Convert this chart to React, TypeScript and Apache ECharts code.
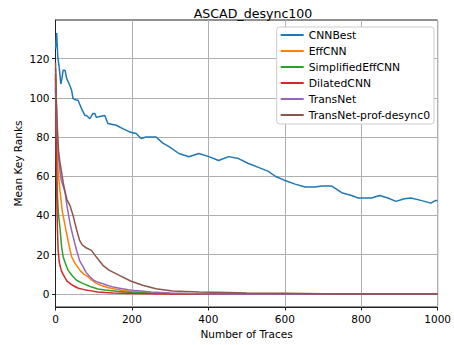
import React, { useEffect, useRef } from "react";
import * as echarts from "echarts";

const title = "ASCAD_desync100";
const xName = "Number of Traces";
const yName = "Mean Key Ranks";
const yTicks = [0, 20, 40, 60, 80, 100, 120];

const seriesNames = ["CNNBest", "EffCNN", "SimplifiedEffCNN", "DilatedCNN", "TransNet", "TransNet-prof-desync0"];
const colors = ["#1f77b4", "#ff7f0e", "#2ca02c", "#d62728", "#9467bd", "#8c564b"];

const cnnBest: number[][] = [
  [0, 125], [3, 133], [6, 121], [10, 115], [14, 107], [17, 110], [20, 114], [25, 114], [29, 110],
  [38, 106], [42, 104], [46, 99.6], [52, 99], [59, 98.7], [68, 94.5], [77, 91], [81, 91], [90, 89.4],
  [98, 92], [103, 92], [107, 90], [116, 90.5], [129, 91], [137, 86.9], [159, 86], [176, 84.3],
  [194, 82.6], [211, 81.8], [224, 79.2], [237, 80], [263, 80], [280, 77], [298, 75], [323, 71.6],
  [349, 69.9], [375, 71.6], [401, 70], [427, 68], [453, 70], [479, 69], [505, 66.5], [531, 64.5],
  [557, 62.5], [575, 60], [601, 57.8], [627, 56], [653, 54.5], [679, 54.5], [697, 55], [723, 55],
  [749, 51.6], [775, 50.2], [792, 48.9], [827, 48.9], [848, 50.2], [870, 48.9], [891, 47.2],
  [913, 48.5], [930, 48.9], [956, 47.7], [982, 46.3], [995, 47.7], [1000, 47.5],
];

const effCnn: number[][] = [
  [0, 110], [1, 100], [2, 90], [4, 75], [7, 62], [12, 52], [18, 42], [25, 35], [33, 27], [42, 19],
  [50, 16], [64, 12], [75, 10], [85, 8.8], [95, 7], [107, 5.4], [120, 4.3], [137, 3.3], [155, 2.5],
  [176, 1.8], [200, 1.2], [250, 0.5], [300, 0.25], [350, 0.1], [400, 0], [1000, 0],
];

const simplifiedEffCnn: number[][] = [
  [0, 105], [1, 92], [2, 78], [3, 65], [5, 50], [8, 40], [12, 33], [16, 24], [20, 19], [25, 16],
  [33, 12], [45, 9], [55, 7], [70, 5.5], [81, 4.6], [95, 3.5], [111, 2.5], [130, 2], [160, 1.4],
  [200, 0.8], [250, 0.4], [300, 0.15], [350, 0.05], [400, 0], [1000, 0],
];

const dilatedCnn: number[][] = [
  [0, 112], [1, 90], [2, 72], [3, 55], [4, 42], [5, 33], [7, 22], [10, 16], [15, 12], [20, 10],
  [30, 6.5], [40, 5], [50, 3.8], [60, 2.9], [75, 2.2], [90, 1.7], [110, 1.0], [150, 0.5],
  [200, 0.2], [250, 0.05], [300, 0], [1000, 0],
];

const transNet: number[][] = [
  [0, 115], [1, 105], [2, 98], [4, 85], [7, 72], [10, 66], [12, 62], [15, 58], [20, 55], [25, 52],
  [30, 45], [38, 36], [45, 30], [55, 22.4], [63, 17], [72, 13.9], [80, 11], [90, 8.8], [100, 7],
  [107, 6.3], [120, 5.5], [133, 4.6], [150, 3.6], [168, 2.9], [190, 2.2], [211, 1.7], [250, 1.0],
  [300, 0.5], [350, 0.2], [400, 0.05], [450, 0], [1000, 0],
];

const transNetProf: number[][] = [
  [0, 118], [1, 110], [2, 100], [4, 90], [6, 80], [8, 73], [11, 68], [16, 62], [20, 57], [25, 52],
  [30, 48], [38, 45], [46, 40], [51, 36], [55, 33], [63, 27.3], [70, 25], [81, 23.4], [94, 22.2],
  [107, 18.8], [124, 14.6], [141, 12], [167, 9.5], [198, 6.5], [228, 4.4], [263, 2.7], [306, 1.5],
  [375, 1], [450, 0.7], [500, 0.5], [600, 0.3], [700, 0.1], [800, 0], [1000, 0],
];

const allData = [cnnBest, effCnn, simplifiedEffCnn, dilatedCnn, transNet, transNetProf];

const FONT = "DejaVu Sans";
const FS = 10.5;

export default function App() {
  const ref = useRef<HTMLDivElement>(null);
  useEffect(() => {
    if (!ref.current) return;
    const chart = echarts.init(ref.current, null, { renderer: "svg" });
    chart.setOption({
      animation: false,
      title: {
        text: title,
        left: 248,
        top: 2,
        textAlign: "center",
        textStyle: { fontSize: 12.6, fontWeight: "normal", color: "#000", fontFamily: FONT },
      },
      grid: {
        left: 55.5,
        right: 13.5,
        top: 20,
        bottom: 38,
        show: true,
        borderColor: "#222",
        borderWidth: 1,
        backgroundColor: "transparent",
      },
      legend: {
        orient: "vertical",
        right: 20,
        top: 27,
        data: seriesNames,
        icon: "rect",
        itemWidth: 23,
        itemHeight: 2,
        itemGap: 4,
        itemTextGap: 8,
        padding: [2, 4, 3, 4],
        backgroundColor: "#fff",
        borderColor: "#ccc",
        borderWidth: 1,
        borderRadius: 3,
        textStyle: { fontSize: 10.8, fontFamily: FONT, color: "#000", lineHeight: 12 },
      },
      xAxis: {
        type: "value",
        min: 0,
        max: 1000,
        interval: 200,
        name: xName,
        nameLocation: "middle",
        nameGap: 21,
        nameMoveOverlap: false,
        nameTextStyle: { fontSize: FS, fontFamily: FONT, color: "#000" },
        axisLine: { onZero: false, lineStyle: { color: "#222", width: 1 } },
        axisTick: { show: true, length: 3.5, lineStyle: { color: "#222" } },
        axisLabel: {
          fontSize: FS,
          fontFamily: FONT,
          color: "#000",
          margin: 6,
          formatter: (v: number) => String(v),
        },
        splitLine: { show: true, lineStyle: { color: "#b0b0b0", width: 1 } },
      },
      yAxis: {
        type: "value",
        min: -6.65,
        max: 139.65,
        name: yName,
        nameLocation: "middle",
        nameGap: 32,
        nameMoveOverlap: false,
        nameTextStyle: { fontSize: FS, fontFamily: FONT, color: "#000" },
        axisLine: { onZero: false, lineStyle: { color: "#222", width: 1 } },
        axisTick: { show: true, length: 3.5, lineStyle: { color: "#222" }, customValues: yTicks },
        axisLabel: {
          fontSize: FS,
          fontFamily: FONT,
          color: "#000",
          margin: 6,
          customValues: yTicks,
          formatter: (v: number) => String(v),
        },
        splitLine: { show: true, lineStyle: { color: "#b0b0b0", width: 1 } },
      },
      series: allData.map((d, i) => ({
        name: seriesNames[i],
        type: "line",
        data: d,
        showSymbol: false,
        symbol: "none",
        lineStyle: { color: colors[i], width: 1.5 },
        itemStyle: { color: colors[i] },
      })),
    });
    return () => chart.dispose();
  }, []);
  return (
    <div
      ref={ref}
      style={{ position: "fixed", left: 0, top: 0, width: 454, height: 345, background: "#fff" }}
    />
  );
}
